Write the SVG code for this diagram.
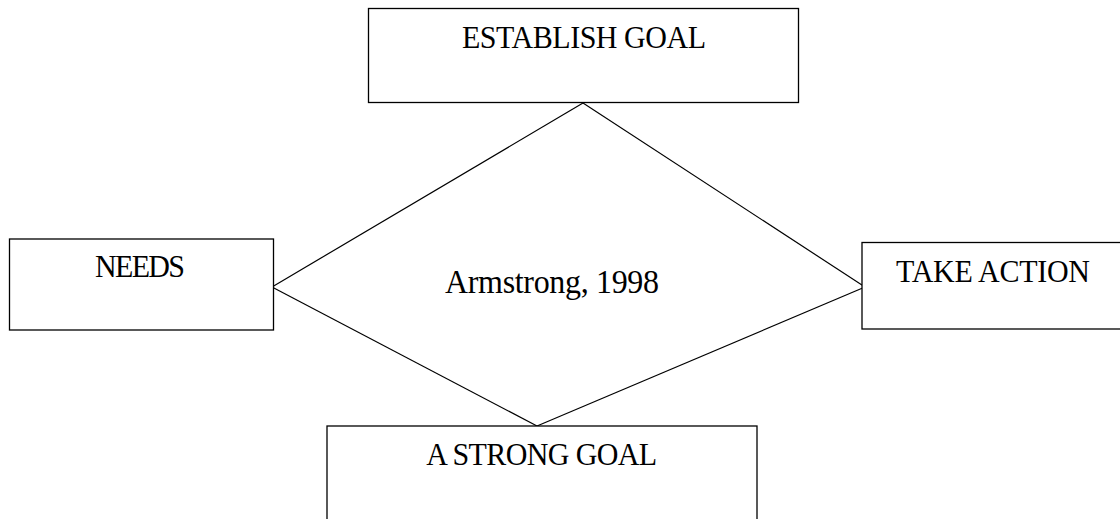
<svg xmlns="http://www.w3.org/2000/svg" width="1120" height="519" viewBox="0 0 1120 519">
<style>
.box{fill:#fff;stroke:#000;stroke-width:1.3}
.lbl{font-family:"Liberation Serif","Times New Roman",serif;font-size:30px;fill:#000;text-anchor:middle}
.edge{fill:none;stroke:#000;stroke-width:1.2}
</style>
<rect width="1120" height="519" fill="#fff"/>
<g id="connectors">
<line class="edge" x1="583" y1="103" x2="272" y2="287"/>
<line class="edge" x1="583" y1="103" x2="865" y2="287"/>
<line class="edge" x1="272" y1="287" x2="537" y2="426"/>
<line class="edge" x1="865" y1="287" x2="537" y2="426"/>
</g>
<g id="establish-goal">
<rect class="box" x="368.5" y="8.5" width="430" height="94"/>
<text class="lbl" transform="translate(584 48.3) scale(1 1.08)" x="0" y="0" textLength="244">ESTABLISH GOAL</text>
</g>
<g id="needs">
<rect class="box" x="9.5" y="239" width="264" height="91"/>
<text class="lbl" transform="translate(140 276.7) scale(1 1.05)" x="0" y="0" textLength="90">NEEDS</text>
</g>
<g id="take-action">
<rect class="box" x="862" y="242.5" width="270" height="86.5"/>
<text class="lbl" transform="translate(993 281.7) scale(1 1.05)" x="0" y="0" textLength="194">TAKE ACTION</text>
</g>
<g id="strong-goal">
<rect class="box" x="327" y="426" width="430" height="110"/>
<text class="lbl" transform="translate(541.7 465) scale(1 1.08)" x="0" y="0" textLength="231">A STRONG GOAL</text>
</g>
<g id="center-label">
<text class="lbl" transform="translate(552 293.3) scale(1 1.04)" x="0" y="0" style="font-size:32px" textLength="214">Armstrong, 1998</text>
</g>
</svg>
